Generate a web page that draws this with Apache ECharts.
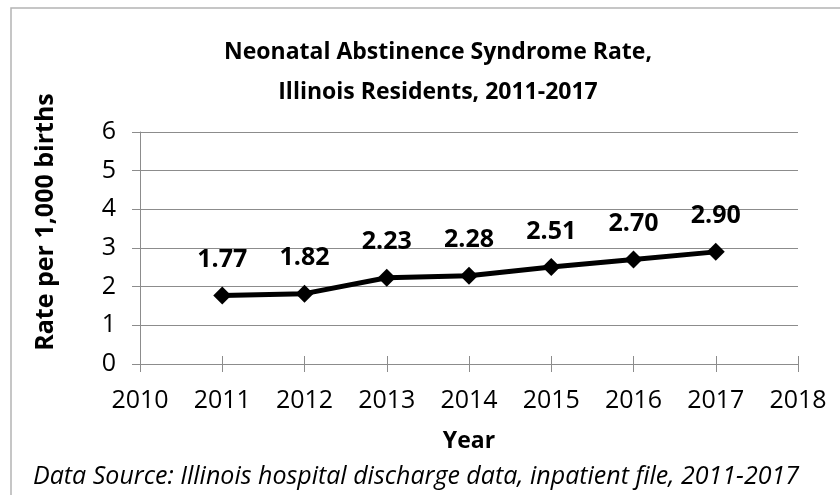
<!DOCTYPE html>
<html>
<head>
<meta charset="utf-8">
<script src="https://cdn.jsdelivr.net/npm/echarts@6/dist/echarts.min.js"></script>
<style>
  html, body { margin: 0; padding: 0; background: #fff; }
  #chart { width: 840px; height: 495px; }
</style>
</head>
<body>
<div id="chart"></div>
<script>
const years = [2011, 2012, 2013, 2014, 2015, 2016, 2017]
const rates = [1.77, 1.82, 2.23, 2.28, 2.51, 2.70, 2.90]
const rateLabels = ['1.77', '1.82', '2.23', '2.28', '2.51', '2.70', '2.90']

const font = '"Open Sans", sans-serif'
const axisGray = '#8c8c8c'

const chart = echarts.init(document.getElementById('chart'))

const xBase = {
  type: 'value',
  min: 2010,
  max: 2018,
  interval: 1,
  splitLine: { show: false },
  axisLine: { lineStyle: { color: axisGray, width: 1 } }
}

chart.setOption({
  animation: false,
  textStyle: { fontFamily: font },
  title: {
    text: 'Neonatal Abstinence Syndrome Rate,\nIllinois Residents, 2011-2017',
    left: 433,
    top: 27,
    textAlign: 'center',
    textStyle: { fontSize: 23, fontWeight: 'bold', color: '#000', lineHeight: 40, fontFamily: font }
  },
  grid: { left: 140, right: 42, top: 132, bottom: 131 },
  xAxis: [
    Object.assign({}, xBase, {
      name: 'Year',
      nameLocation: 'middle',
      nameGap: 66,
      nameTextStyle: { fontSize: 23, fontWeight: 'bold', color: '#000', fontFamily: font },
      axisTick: { show: true, inside: false, length: 8, lineStyle: { color: axisGray } },
      axisLabel: { fontSize: 25, color: '#000', margin: 24, fontFamily: font, formatter: v => String(v) }
    }),
    Object.assign({}, xBase, {
      position: 'bottom',
      axisTick: { show: true, inside: true, length: 8, lineStyle: { color: axisGray } },
      axisLabel: { show: false }
    })
  ],
  yAxis: {
    type: 'value',
    min: 0,
    max: 6,
    interval: 1,
    axisLine: { show: true, lineStyle: { color: axisGray } },
    axisTick: { show: true, length: 8, lineStyle: { color: axisGray } },
    axisLabel: { fontSize: 25, color: '#000', margin: 24, fontFamily: font },
    splitLine: { lineStyle: { color: axisGray, width: 1 } }
  },
  graphic: [
    {
      type: 'rect',
      shape: { x: 11, y: 8, width: 900, height: 600 },
      style: { fill: 'none', stroke: '#b4b4b4', lineWidth: 1.5 },
      silent: true
    },
    {
      type: 'text',
      x: 46,
      y: 222,
      rotation: Math.PI / 2,
      style: {
        text: 'Rate per 1,000 births',
        fontSize: 25,
        fontWeight: 'bold',
        fill: '#000',
        fontFamily: font,
        align: 'center',
        verticalAlign: 'middle'
      }
    },
    {
      type: 'text',
      x: 33,
      y: 477,
      style: {
        text: 'Data Source: Illinois hospital discharge data, inpatient file, 2011-2017',
        fontSize: 25,
        fontStyle: 'italic',
        fill: '#000',
        fontFamily: font,
        verticalAlign: 'middle'
      }
    }
  ],
  series: [
    {
      type: 'line',
      data: years.map((y, i) => [y, rates[i]]),
      symbol: 'diamond',
      symbolSize: 18,
      lineStyle: { color: '#000', width: 5 },
      itemStyle: { color: '#000' },
      label: {
        show: true,
        position: 'top',
        distance: 14,
        fontSize: 25,
        fontWeight: 'bold',
        color: '#000',
        fontFamily: font,
        formatter: p => rateLabels[p.dataIndex]
      }
    }
  ]
})
</script>
</body>
</html>
